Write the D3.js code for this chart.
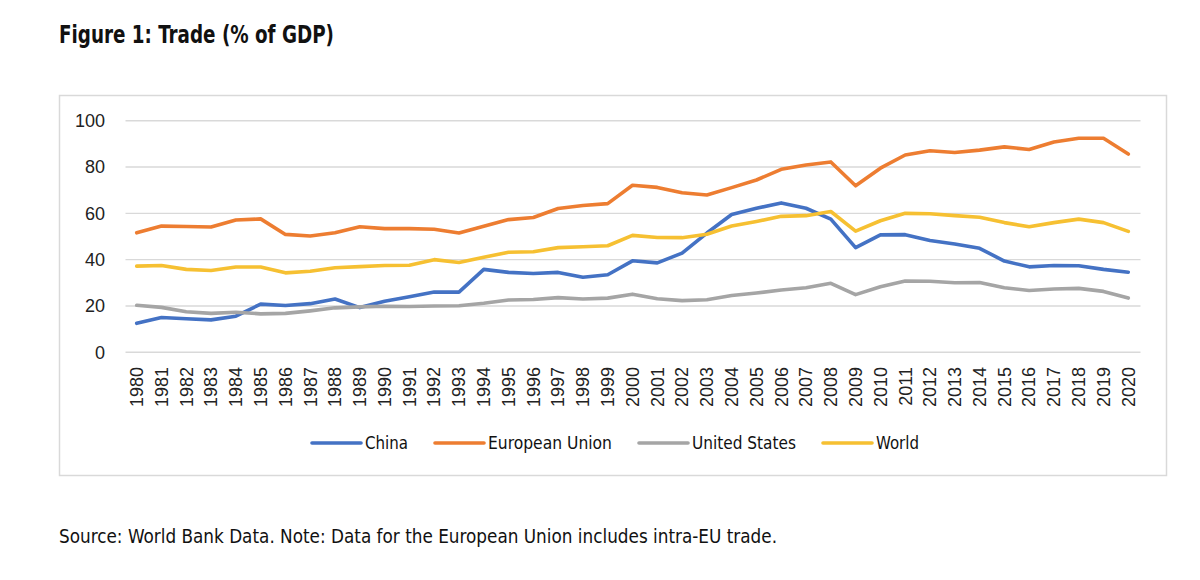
<!DOCTYPE html>
<html>
<head>
<meta charset="utf-8">
<script src="https://cdn.jsdelivr.net/npm/d3@7"></script>
<style>
  html, body { margin: 0; padding: 0; background: #fff; }
  svg { display: block; }
  .cond { font-family: 'DejaVu Sans Condensed', 'Liberation Sans Narrow', sans-serif; font-stretch: condensed; }
  .axis { font-family: 'Liberation Sans', Arial, sans-serif; }
</style>
</head>
<body>
<div id="chart"></div>
<script>
// years on the x axis
const years = d3.range(1980, 2021).map(String);

// trade as % of GDP
const china = [12.5, 15, 14.5, 14, 15.6, 20.8, 20.2, 21, 23, 19.3,
  22, 24, 26, 26, 35.8, 34.5, 34, 34.5, 32.4, 33.5,
  39.5, 38.6, 42.8, 51.5, 59.5, 62.2, 64.5, 62.2, 57.5, 45.2,
  50.7, 50.8, 48.3, 46.8, 44.9, 39.4, 36.9, 37.5, 37.4, 35.8, 34.6];
const eu = [51.6, 54.5, 54.3, 54.1, 57.1, 57.6, 50.9, 50.2, 51.6, 54.2,
  53.4, 53.4, 53.1, 51.5, 54.4, 57.3, 58.2, 62.1, 63.4, 64.2,
  72.1, 71.2, 68.9, 67.9, 71.1, 74.4, 79, 80.9, 82.2, 71.9,
  79.5, 85.2, 87, 86.3, 87.3, 88.7, 87.6, 90.8, 92.4, 92.4, 85.6];
const us = [20.3, 19.4, 17.5, 16.8, 17.3, 16.6, 16.8, 17.9, 19.2, 19.6,
  19.9, 19.8, 20, 20.1, 21.2, 22.6, 22.8, 23.6, 23, 23.4,
  25.1, 23.1, 22.3, 22.7, 24.5, 25.6, 26.9, 27.9, 29.8, 24.9,
  28.3, 30.8, 30.7, 30, 30.1, 27.9, 26.7, 27.3, 27.6, 26.3, 23.4];
const world = [37.2, 37.5, 35.8, 35.3, 36.8, 36.8, 34.3, 35, 36.5, 37,
  37.5, 37.6, 40, 38.8, 41, 43.2, 43.4, 45.2, 45.6, 46,
  50.5, 49.6, 49.5, 51, 54.5, 56.5, 58.7, 59, 60.8, 52.3,
  56.8, 60, 59.8, 59, 58.3, 56, 54.2, 56, 57.5, 56, 52.2];

const seriesNames = ['China', 'European Union', 'United States', 'World'];
const seriesValues = [china, eu, us, world];
const seriesColors = ['#4472C4', '#ED7D31', '#A5A5A5', '#F6C032'];
const yTicks = [0, 20, 40, 60, 80, 100];

const W = 1200, H = 580;

const svg = d3.select('#chart').append('svg')
    .attr('width', W)
    .attr('height', H);

svg.append('rect').attr('width', W).attr('height', H).attr('fill', '#fff');

// title
svg.append('text')
    .attr('class', 'cond')
    .attr('x', 59)
    .attr('y', 43)
    .attr('font-size', 24)
    .attr('font-weight', 'bold')
    .attr('fill', '#111')
    .attr('textLength', 275)
    .attr('lengthAdjust', 'spacingAndGlyphs')
    .text('Figure 1: Trade (% of GDP)');

// chart frame
svg.append('rect')
    .attr('x', 59.5)
    .attr('y', 95.5)
    .attr('width', 1107)
    .attr('height', 380)
    .attr('fill', 'none')
    .attr('stroke', '#d9d9d9')
    .attr('stroke-width', 1.5);

const x = d3.scalePoint().domain(years).range([136.7, 1128.3]);
const y = d3.scaleLinear().domain([0, 100]).range([352.3, 120.7]);
const plotLeft = 125.5, plotRight = 1140.5;

// gridlines
svg.append('g')
    .selectAll('line')
    .data(yTicks)
    .join('line')
    .attr('x1', plotLeft)
    .attr('x2', plotRight)
    .attr('y1', d => y(d))
    .attr('y2', d => y(d))
    .attr('stroke', '#d9d9d9')
    .attr('stroke-width', 1.4);

// y axis labels
svg.append('g')
    .attr('class', 'axis')
    .selectAll('text')
    .data(yTicks)
    .join('text')
    .attr('x', 105)
    .attr('y', d => y(d))
    .attr('dy', '0.35em')
    .attr('text-anchor', 'end')
    .attr('font-size', 18)
    .attr('fill', '#222')
    .text(d => d);

// x axis labels, rotated
svg.append('g')
    .attr('class', 'axis')
    .selectAll('text')
    .data(years)
    .join('text')
    .attr('transform', d => `translate(${x(d)},367) rotate(-90)`)
    .attr('dy', '0.35em')
    .attr('text-anchor', 'end')
    .attr('font-size', 18)
    .attr('fill', '#222')
    .text(d => d);

// lines
const line = d3.line()
    .x((d, i) => x(years[i]))
    .y(d => y(d));

svg.append('g')
    .selectAll('path')
    .data(seriesValues)
    .join('path')
    .attr('fill', 'none')
    .attr('stroke', (d, i) => seriesColors[i])
    .attr('stroke-width', 3.6)
    .attr('stroke-linejoin', 'round')
    .attr('stroke-linecap', 'round')
    .attr('d', line);

// legend
const legendX = [312, 435, 639, 823];
const legendW = [43, 124, 104, 43];
const legend = svg.append('g')
    .selectAll('g')
    .data(seriesNames)
    .join('g')
    .attr('transform', (d, i) => `translate(${legendX[i]},443)`);

legend.append('line')
    .attr('x1', 0)
    .attr('x2', 49)
    .attr('stroke', (d, i) => seriesColors[i])
    .attr('stroke-width', 3.6)
    .attr('stroke-linecap', 'round');

legend.append('text')
    .attr('class', 'cond')
    .attr('x', 53)
    .attr('dy', '0.35em')
    .attr('font-size', 18)
    .attr('fill', '#111')
    .attr('textLength', (d, i) => legendW[i])
    .attr('lengthAdjust', 'spacingAndGlyphs')
    .text(d => d);

// note
svg.append('text')
    .attr('class', 'cond')
    .attr('x', 59)
    .attr('y', 543)
    .attr('font-size', 19.5)
    .attr('fill', '#111')
    .attr('textLength', 718)
    .attr('lengthAdjust', 'spacingAndGlyphs')
    .text('Source: World Bank Data. Note: Data for the European Union includes intra-EU trade.');
</script>
</body>
</html>
